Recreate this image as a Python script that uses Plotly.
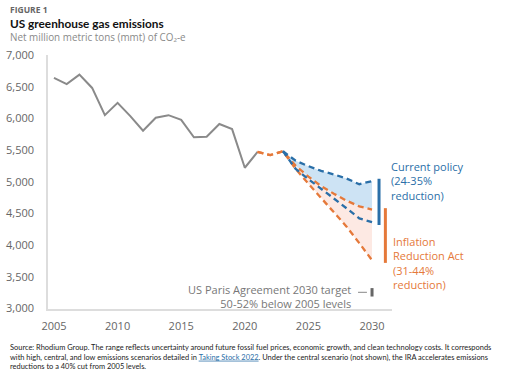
import plotly.graph_objects as go

# ---------------- data ----------------
hist_years = list(range(2005, 2022))
hist_values = [6640, 6540, 6690, 6480, 6050, 6245, 6035, 5805, 6010, 6050,
               5975, 5700, 5710, 5910, 5830, 5220, 5470]

ira_years = list(range(2021, 2031))
ira_high = [5470, 5420, 5480, 5250, 5080, 4930, 4810, 4700, 4610, 4560]
ira_low = [5470, 5420, 5480, 5200, 4970, 4740, 4520, 4290, 4030, 3760]

cp_years = list(range(2023, 2031))
cp_high = [5480, 5330, 5245, 5170, 5115, 5050, 4960, 5010]
cp_low = [5480, 5200, 5040, 4880, 4735, 4580, 4420, 4360]

cp_range = [5046, 4316]     # 24-35% reduction
ira_range = [4582, 3718]    # 31-44% reduction
paris_range = [3320, 3187]  # 50-52% below 2005

x_ticks = [2005, 2010, 2015, 2020, 2025, 2030]
y_ticks = [3000, 3500, 4000, 4500, 5000, 5500, 6000, 6500, 7000]

# ---------------- style ----------------
FONT = "Open Sans"
BLUE = "#2a6fa8"
ORANGE = "#e5793a"
GREY = "#8a8a8a"
BLUE_FILL = "rgba(196,222,242,0.85)"
PINK_FILL = "rgba(252,226,218,0.75)"

W, H = 528, 378
L, R, T, B = 48, 392, 55, 309


def px(x):
    return (x - L) / (R - L)


def py(y):
    return (B - y) / (B - T)


fig = go.Figure()

# fills
n_off = ira_years.index(cp_years[0])
fig.add_trace(go.Scatter(
    x=cp_years + cp_years[::-1],
    y=cp_high + ira_high[n_off:][::-1],
    fill="toself", fillcolor=BLUE_FILL, line=dict(width=0),
    mode="lines", hoverinfo="skip", showlegend=False))
fig.add_trace(go.Scatter(
    x=ira_years[n_off:] + ira_years[n_off:][::-1],
    y=ira_high[n_off:] + ira_low[n_off:][::-1],
    fill="toself", fillcolor=PINK_FILL, line=dict(width=0),
    mode="lines", hoverinfo="skip", showlegend=False))

# historical
fig.add_trace(go.Scatter(x=hist_years, y=hist_values, mode="lines",
                         line=dict(color=GREY, width=2), showlegend=False))

dash = "6px,4px"
for ys in (ira_low, ira_high):
    fig.add_trace(go.Scatter(x=ira_years, y=ys, mode="lines",
                             line=dict(color=ORANGE, width=2.3, dash=dash),
                             showlegend=False))
for ys in (cp_low, cp_high):
    fig.add_trace(go.Scatter(x=cp_years, y=ys, mode="lines",
                             line=dict(color=BLUE, width=2.3, dash=dash),
                             showlegend=False))

# range bars
fig.add_trace(go.Scatter(x=[2030.55, 2030.55], y=cp_range, mode="lines",
                         line=dict(color=BLUE, width=3), showlegend=False))
fig.add_trace(go.Scatter(x=[2031.05, 2031.05], y=ira_range, mode="lines",
                         line=dict(color=ORANGE, width=3), showlegend=False))
fig.add_trace(go.Scatter(x=[2030, 2030], y=paris_range, mode="lines",
                         line=dict(color="#666666", width=3), showlegend=False))
mid = sum(paris_range) / 2
fig.add_trace(go.Scatter(x=[2028.9, 2029.6], y=[mid, mid], mode="lines",
                         line=dict(color="#888888", width=1), showlegend=False))

ann = []
ann.append(dict(text="<b>FIGURE 1</b>", x=px(8), y=py(9.5),
                font=dict(size=8.5, color="#666666")))
ann.append(dict(text="<b>US greenhouse gas emissions</b>", x=px(7.5), y=py(23),
                font=dict(size=11.8, color="#111111", family="Lato")))
ann.append(dict(text="Net million metric tons (mmt) of CO₂-e", x=px(7.5), y=py(37),
                font=dict(size=9.9, color="#8a8a8a")))
for a in ann:
    a.update(xref="paper", yref="paper", xanchor="left", yanchor="middle", showarrow=False)

more = [
    dict(text="Current policy<br>(24-35%<br>reduction)", x=px(389), y=py(181),
         xanchor="left", yanchor="middle", align="left",
         font=dict(size=11, color=BLUE)),
    dict(text="Inflation<br>Reduction Act<br>(31-44%<br>reduction)", x=px(391), y=py(263),
         xanchor="left", yanchor="middle", align="left",
         font=dict(size=11, color=ORANGE)),
    dict(text="US Paris Agreement 2030 target<br>50-52% below 2005 levels", x=px(353), y=py(296.5),
         xanchor="right", yanchor="middle", align="right",
         font=dict(size=11, color="#777777")),
    dict(text=("Source: Rhodium Group. The range reflects uncertainty around future fossil fuel prices, "
               "economic growth, and clean technology costs. It corresponds<br>with high, central, and low "
               "emissions scenarios detailed in <span style='color:#2a6fa8;text-decoration:underline'>"
               "Taking Stock 2022</span>. Under the central scenario (not shown), the IRA accelerates "
               "emissions<br>reductions to a 40% cut from 2005 levels."),
         x=px(8), y=py(357), xanchor="left", yanchor="middle", align="left",
         font=dict(size=7.45, color="#222222", family="Lato")),
]
for a in more:
    a.update(xref="paper", yref="paper", showarrow=False)
ann += more

fig.update_layout(
    width=W, height=H,
    margin=dict(l=L, r=W - R, t=T, b=H - B, pad=0, autoexpand=False),
    paper_bgcolor="white", plot_bgcolor="white",
    font=dict(family=FONT, color="#666666", size=11),
    annotations=ann,
    showlegend=False,
    xaxis=dict(range=[2004.53, 2031.57], tickvals=x_ticks, showgrid=False, automargin=False,
               zeroline=False, showline=True, linecolor="#dddddd", linewidth=1.5,
               ticks="", ticklabelstandoff=6, tickfont=dict(size=11, color="#666666")),
    yaxis=dict(range=[2990, 7000], tickvals=y_ticks, tickformat=",", showgrid=False, automargin=False,
               zeroline=False, showline=True, linecolor="#dddddd", linewidth=1.5,
               ticks="", ticklabelstandoff=10, tickfont=dict(size=11, color="#666666")),
)

fig.write_html("out.html", config={"displayModeBar": False},
               post_script="document.body.style.margin='0';")
